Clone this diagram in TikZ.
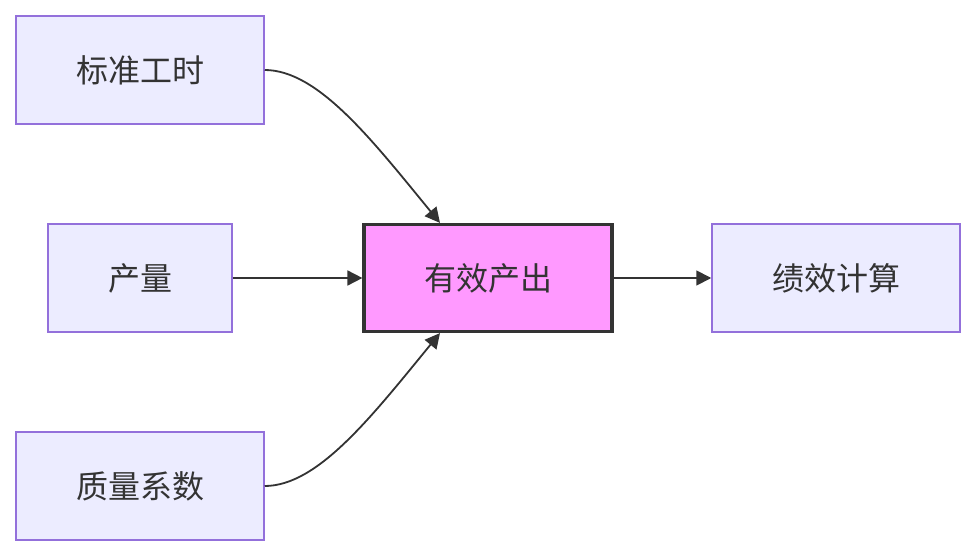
\documentclass[tikz,border=0pt]{standalone}
\usepackage{fontspec}
\setmainfont{Noto Sans CJK SC}
\usetikzlibrary{arrows.meta}
\definecolor{boxfill}{HTML}{ECECFF}
\definecolor{boxline}{HTML}{9370DB}
\definecolor{txt}{HTML}{333333}
\definecolor{pinkfill}{HTML}{FF99FF}
\begin{document}
\begin{tikzpicture}[x=1pt,y=-1pt,
  box/.style={draw=boxline,fill=boxfill,line width=1.5pt,minimum height=108pt,inner sep=0pt,text=txt,font=\fontsize{32}{36}\selectfont},
  hot/.style={draw=txt,fill=pinkfill,line width=3.2pt,minimum width=248pt,minimum height=107pt,inner sep=0pt,text=txt,font=\fontsize{32}{36}\selectfont},
  link/.style={draw=txt,line width=1.8pt,-{Triangle[length=15pt,width=15pt]}}]
\useasboundingbox (0,0) rectangle (976,556);
\node[box,minimum width=248pt] (a) at (140,70) {标准工时};
\node[box,minimum width=184pt] (b) at (140,278) {产量};
\node[box,minimum width=248pt] (c) at (140,486) {质量系数};
\node[hot] (d) at (488,278) {有效产出};
\node[box,minimum width=248pt] (e) at (836,278) {绩效计算};
\draw[link] (a.east) .. controls (318,70) and (372,140) .. (d.north -| 440,0);
\draw[link] (b.east) -- (d.west);
\draw[link] (c.east) .. controls (318,486) and (372,416) .. (d.south -| 440,0);
\draw[link] (d.east) -- (e.west);
\end{tikzpicture}
\end{document}
